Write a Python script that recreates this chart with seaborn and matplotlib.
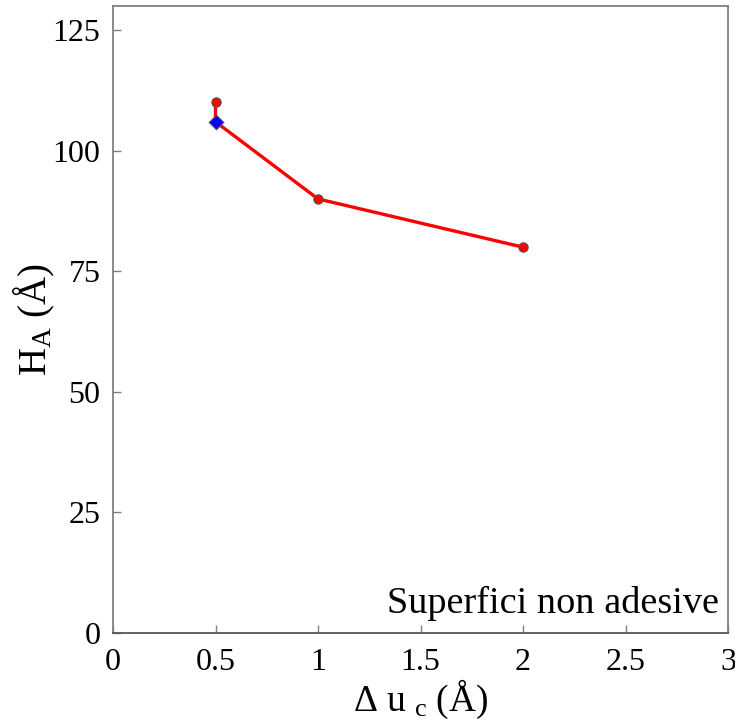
import matplotlib
matplotlib.use("Agg")
import matplotlib.pyplot as plt
import seaborn as sns
import pandas as pd

# data
delta_uc = [0.5, 0.5, 1.0, 2.0]
h_a = [110, 106, 90, 80]
red_x = [0.5, 1.0, 2.0]
red_y = [110, 90, 80]
blue_x = [0.5]
blue_y = [106]
xticks = [0, 0.5, 1, 1.5, 2, 2.5, 3]
xticklabels = ["0", "0.5", "1", "1.5", "2", "2.5", "3"]
yticks = [0, 25, 50, 75, 100, 125]

sns.set_style("white")
plt.rcParams['font.family'] = ['Liberation Serif', 'DejaVu Serif']
plt.rcParams['mathtext.fontset'] = 'custom'
plt.rcParams['mathtext.rm'] = 'Liberation Serif'
plt.rcParams['mathtext.it'] = 'Liberation Serif:italic'
plt.rcParams['text.color'] = 'black'
plt.rcParams['axes.labelcolor'] = 'black'

fig = plt.figure(figsize=(7.35, 7.22), dpi=100)
ax = fig.add_axes([113/735, 1-633/722, (728-113)/735, (633-6)/722])

df = pd.DataFrame({"x": delta_uc, "y": h_a})
sns.lineplot(data=df, x="x", y="y", sort=False, estimator=None, color="#ff0000",
             linewidth=2.4, ax=ax, zorder=2)
sns.scatterplot(x=red_x, y=red_y, color="#ff0000", edgecolor="#555555", linewidth=0.8,
                s=45, marker="o", ax=ax, zorder=3)
sns.scatterplot(x=blue_x, y=blue_y, color="#0000ff", edgecolor="#555555", linewidth=0.8,
                s=55, marker="D", ax=ax, zorder=4)

ax.set_xlim(0, 3)
ax.set_ylim(0, 130)
ax.set_xticks(xticks)
ax.set_xticklabels(xticklabels)
ax.set_yticks(yticks)
ax.tick_params(direction="in", length=6, width=1, color="#808080", labelsize=23,
               labelcolor="black", top=False, right=False, bottom=True, left=True)
ax.tick_params(axis="x", pad=11)
ax.tick_params(axis="y", pad=9)
for s in ax.spines.values():
    s.set_color("#808080")
    s.set_linewidth(1.3)
ax.spines["bottom"].set_color("#555555")

ax.set_xlabel(r"$\mathrm{\Delta\ u\ _c\ (Å)}$", fontsize=27, labelpad=0)
ax.set_ylabel(r"$\mathrm{H_A\ (Å)}$", fontsize=28, labelpad=-3)
ax.text(0.985, 0.047, "Superfici non adesive", transform=ax.transAxes, ha="right",
        va="center", fontsize=27.5, color="black")

fig.savefig("out.png", dpi=100)
